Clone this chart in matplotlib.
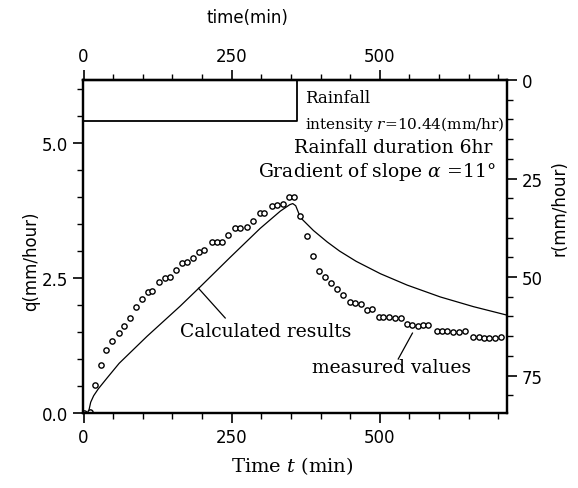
import matplotlib
matplotlib.use("Agg")
import matplotlib.pyplot as plt
from matplotlib.ticker import MultipleLocator, FormatStrFormatter

plt.rcParams["mathtext.fontset"] = "dejavuserif"

# measured discharge (open circles)
t_meas = [0, 11, 19, 29, 38, 48, 59, 68, 78, 88,
          98, 108, 115, 127, 137, 146, 156, 166, 174, 185,
          195, 204, 216, 225, 233, 244, 256, 264, 275, 286,
          297, 305, 318, 326, 336, 346, 355, 366, 377, 388,
          398, 408, 418, 428, 438, 449, 458, 468, 478, 487,
          498, 506, 516, 526, 535, 546, 554, 564, 573, 582,
          596, 605, 614, 624, 633, 643, 657, 667, 676, 685,
          695, 705]
q_meas = [0.0, 0.02, 0.52, 0.89, 1.17, 1.33, 1.48, 1.62, 1.76, 1.96,
          2.11, 2.24, 2.26, 2.42, 2.51, 2.52, 2.65, 2.78, 2.79, 2.88,
          2.99, 3.02, 3.16, 3.16, 3.16, 3.30, 3.43, 3.43, 3.44, 3.56,
          3.70, 3.70, 3.84, 3.85, 3.87, 4.01, 4.01, 3.65, 3.28, 2.90,
          2.64, 2.52, 2.40, 2.30, 2.18, 2.05, 2.04, 2.02, 1.91, 1.93,
          1.77, 1.77, 1.77, 1.76, 1.76, 1.64, 1.63, 1.62, 1.63, 1.63,
          1.52, 1.52, 1.51, 1.50, 1.50, 1.51, 1.41, 1.40, 1.39, 1.39,
          1.39, 1.40]

# calculated results (solid line)
t_calc = [8, 12, 17, 25, 39, 60, 107, 163, 197, 247, 298, 332, 348, 353,
          358, 366, 388, 411, 432, 460, 501, 546, 602, 658, 712]
q_calc = [0.0, 0.2, 0.32, 0.45, 0.64, 0.92, 1.42, 1.98, 2.34, 2.88, 3.42, 3.74, 3.86, 3.88,
          3.84, 3.62, 3.38, 3.17, 3.00, 2.81, 2.58, 2.37, 2.15, 1.97, 1.82]

# rainfall hyetograph
t_rain = [0, 360, 360]
r_rain = [10.44, 10.44, 0]

fig = plt.figure(figsize=(5.78, 4.89), dpi=100)
ax = fig.add_axes([0.1436, 0.1534, 0.734, 0.681])

ax.plot(t_calc, q_calc, color="black", lw=0.9)
ax.plot(t_meas, q_meas, "o", ms=3.8, mfc="white", mec="black", mew=1.0)

ax.set_xlim(-1, 715)
ax.set_ylim(0, 6.17)
ax.set_xticks([0, 250, 500])
ax.xaxis.set_minor_locator(MultipleLocator(50))
ax.set_yticks([0.0, 2.5, 5.0])
ax.yaxis.set_major_formatter(FormatStrFormatter("%.1f"))
ax.yaxis.set_minor_locator(MultipleLocator(0.5))
ax.tick_params(which="major", length=7, width=1.2, labelsize=12, direction="out")
ax.tick_params(which="minor", length=4, width=1.0, direction="out")
for s in ax.spines.values():
    s.set_linewidth(1.6)

# top time axis
axt = ax.secondary_xaxis("top")
axt.set_xticks([0, 250, 500])
axt.xaxis.set_minor_locator(MultipleLocator(50))
axt.tick_params(which="major", length=7, width=1.2, labelsize=12, direction="out")
axt.tick_params(which="minor", length=4, width=1.0, direction="out")
axt.spines["top"].set_linewidth(1.6)

# right rainfall axis
axr = ax.twinx()
axr.plot(t_rain, r_rain, color="black", lw=1.3)
axr.set_ylim(84.5, 0)
axr.set_yticks([0, 25, 50, 75])
axr.yaxis.set_minor_locator(MultipleLocator(5))
axr.tick_params(which="major", length=7, width=1.2, labelsize=12, direction="out")
axr.tick_params(which="minor", length=4, width=1.0, direction="out")
for s in axr.spines.values():
    s.set_linewidth(1.6)

# axis labels
fig.text(0.053, 0.465, "q(mm/hour)", rotation=90, ha="center", va="center", fontsize=12)
fig.text(0.968, 0.575, "r(mm/hour)", rotation=90, ha="center", va="center", fontsize=12)
fig.text(0.428, 0.963, "time(min)", ha="center", va="center", fontsize=12)
fig.text(0.505, 0.047, "Time $t$ (min)", ha="center", va="center", fontsize=14,
         family="DejaVu Serif")

# annotations
serif = dict(family="DejaVu Serif", va="center")
ax.text(374, 5.85, "Rainfall", ha="left", fontsize=12, **serif)
ax.text(374, 5.37, "intensity $r$=10.44(mm/hr)", ha="left", fontsize=11, **serif)
ax.text(690, 4.93, "Rainfall duration 6hr", ha="right", fontsize=13.5, **serif)
ax.text(695, 4.48, "Gradient of slope $\\alpha$ =11°", ha="right", fontsize=13.5, **serif)
ax.text(163, 1.52, "Calculated results", ha="left", fontsize=13.5, **serif)
ax.text(386, 0.85, "measured values", ha="left", fontsize=13.5, **serif)
ax.plot([194, 239], [2.31, 1.76], color="black", lw=0.9)
ax.plot([555, 531], [1.48, 1.0], color="black", lw=0.9)

fig.savefig("out.png", dpi=100)
